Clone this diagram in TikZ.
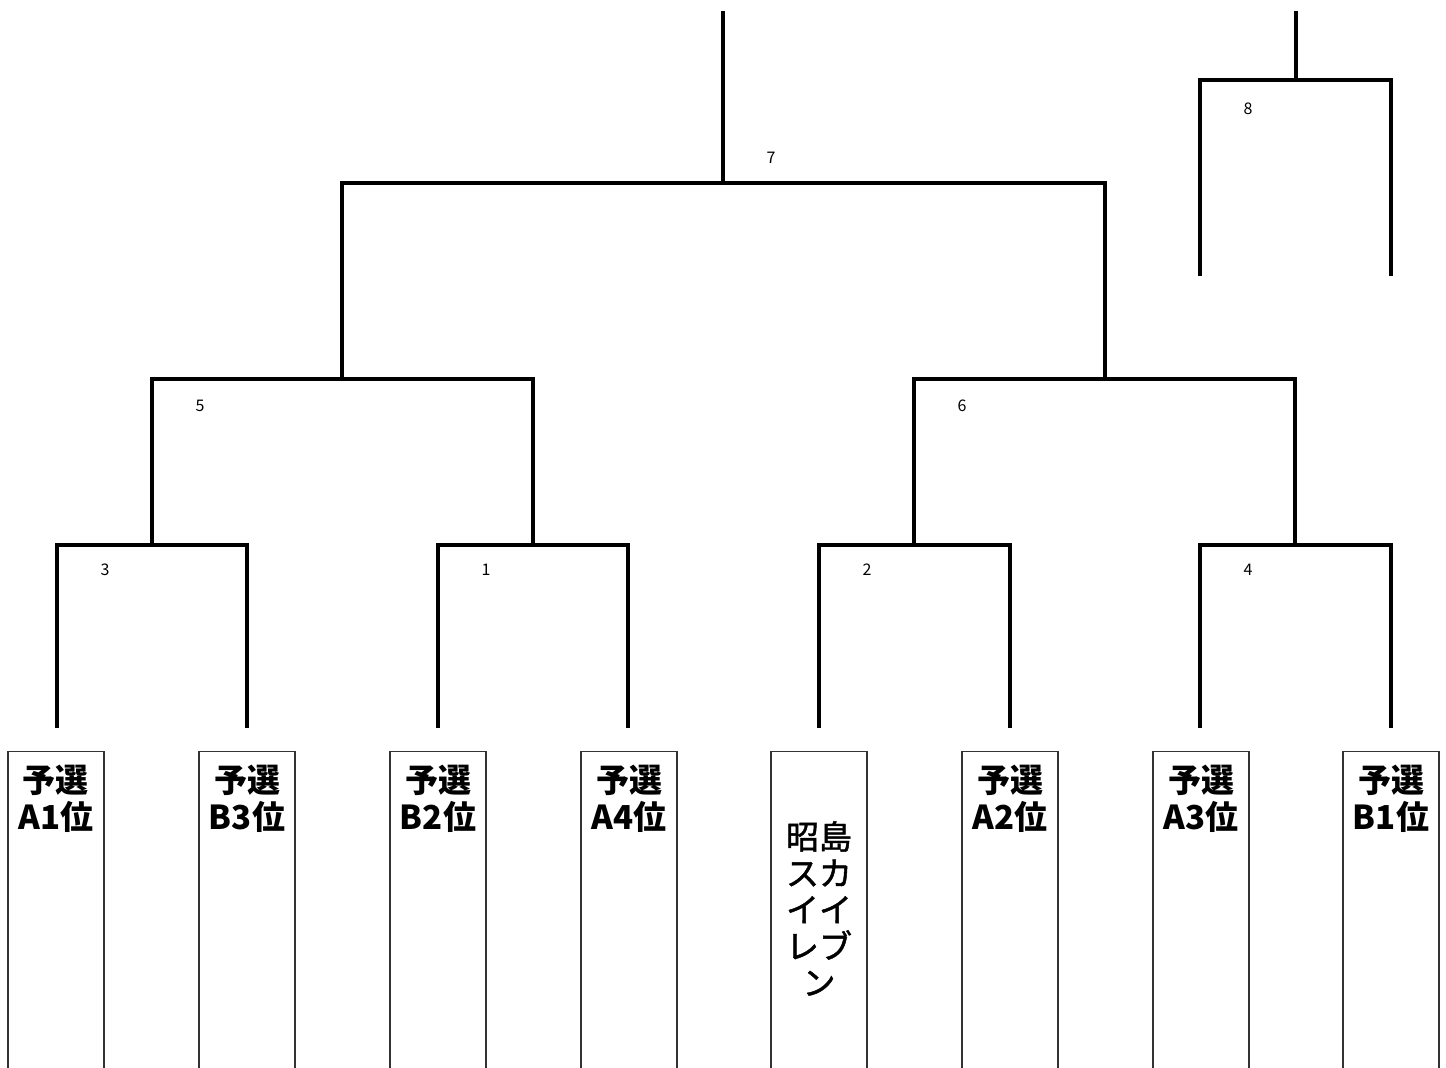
\documentclass[tikz,border=0pt]{standalone}
\usepackage{fontspec}
\setmainfont{Noto Sans CJK JP}
\newfontfamily\jpmed{Noto Sans CJK JP}[BoldFont={Noto Sans CJK JP},BoldFeatures={FakeBold=1.4}]
\begin{document}
\begin{tikzpicture}[x=1pt,y=-1pt,
  bracket/.style={line width=3.6pt,line join=miter},
  teambox/.style={draw=black!80,line width=1.1pt,minimum width=96pt,minimum height=340pt,anchor=north,inner sep=0pt},
  teamtext/.style={anchor=north,align=center,inner sep=0pt,font=\fontsize{33}{36.5}\selectfont\bfseries},
  teamtextr/.style={anchor=north,align=center,inner sep=0pt,font=\jpmed\fontsize{33}{36.5}\selectfont\bfseries},
  numlbl/.style={inner sep=0pt,font=\fontsize{16}{18}\selectfont}]
\useasboundingbox (0,0) rectangle (1446,1068);
\clip (0,0) rectangle (1446,1068);
% boxes
\foreach \i/\x in {1/56,2/247,3/438,4/629,5/819,6/1010,7/1201,8/1391}{
  \node[teambox] (b\i) at (\x,751) {};
}
\node[teamtext] (t1) at ([yshift=-14pt]b1.north) {予選\\A1位};
\node[teamtext] (t2) at ([yshift=-14pt]b2.north) {予選\\B3位};
\node[teamtext] (t3) at ([yshift=-14pt]b3.north) {予選\\B2位};
\node[teamtext] (t4) at ([yshift=-14pt]b4.north) {予選\\A4位};
\node[teamtextr] (t5) at ([yshift=-70pt]b5.north) {昭島\\スカ\\イイ\\レブ\\ン};
\node[teamtext] (t6) at ([yshift=-14pt]b6.north) {予選\\A2位};
\node[teamtext] (t7) at ([yshift=-14pt]b7.north) {予選\\A3位};
\node[teamtext] (t8) at ([yshift=-14pt]b8.north) {予選\\B1位};
% leg tips
\foreach \i/\x in {1/57,2/247,3/438,4/628,5/819,6/1010,7/1200,8/1391}{
  \coordinate (l\i) at (\x,728);
}
% junctions
\coordinate (m3) at (152,545);
\coordinate (m1) at (533,545);
\coordinate (m2) at (914,545);
\coordinate (m4) at (1295,545);
\coordinate (m5) at (342,379);
\coordinate (m6) at (1105,379);
\coordinate (m7) at (723,183);
\coordinate (w7) at (723,11);
\coordinate (m8) at (1296,80);
\coordinate (w8) at (1296,11);
\coordinate (p1) at (1200,276);
\coordinate (p2) at (1391,276);
% first round
\draw[bracket] (l1) |- (m3) -| (l2);
\draw[bracket] (l3) |- (m1) -| (l4);
\draw[bracket] (l5) |- (m2) -| (l6);
\draw[bracket] (l7) |- (m4) -| (l8);
% second round
\draw[bracket] (m3) |- (m5) -| (m1);
\draw[bracket] (m2) |- (m6) -| (m4);
% semi/final
\draw[bracket] (m5) |- (m7) -| (m6);
\draw[bracket] (m7) -- (w7);
% third place
\draw[bracket] (p1) |- (m8) -| (p2);
\draw[bracket] (m8) -- (w8);
% match numbers
\node[numlbl] (n3) at (105,570) {3};
\node[numlbl] (n1) at (486,570) {1};
\node[numlbl] (n2) at (867,570) {2};
\node[numlbl] (n4) at (1248,570) {4};
\node[numlbl] (n5) at (200,406) {5};
\node[numlbl] (n6) at (962,406) {6};
\node[numlbl] (n7) at (771,158) {7};
\node[numlbl] (n8) at (1248,109) {8};
\end{tikzpicture}
\end{document}
